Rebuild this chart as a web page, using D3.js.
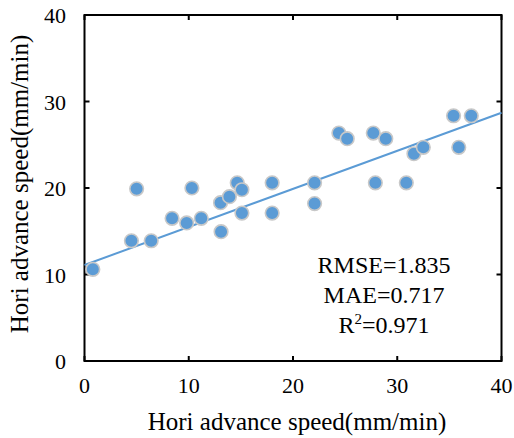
<!DOCTYPE html>
<html><head><meta charset="utf-8">
<script src="https://cdn.jsdelivr.net/npm/d3@7"></script>
<style>body{margin:0;background:#fff}svg{display:block}</style>
</head><body><svg id="c" width="514" height="438"></svg>
<script>
const xVals = [0.8, 4.5, 5.0, 6.4, 8.4, 9.8, 10.3, 11.2, 13.05, 13.1, 13.9, 14.65, 15.1, 15.1, 18.0, 18.0, 22.07, 22.07, 24.4, 25.2, 27.7, 27.9, 28.9, 30.87, 31.6, 32.5, 35.4, 35.9, 37.1];
const yVals = [10.6, 13.9, 19.9, 13.9, 16.5, 15.96, 20.0, 16.5, 18.3, 14.95, 19.0, 20.6, 19.8, 17.1, 20.6, 17.1, 20.6, 18.2, 26.35, 25.7, 26.35, 20.6, 25.7, 20.6, 23.96, 24.7, 28.35, 24.7, 28.35];
const fitX = [0, 40];
const fitY = [11.1, 28.7];
const xTicks = [0, 10, 20, 30, 40];
const yTicks = [0, 10, 20, 30, 40];
const xTitle = "Hori advance speed(mm/min)";
const yTitle = "Hori advance speed(mm/min)";
const stats = ["RMSE=1.835", "MAE=0.717"];

const svg = d3.select("#c");
const L = 84.5, R = 501.5, T = 15, B = 361;
const x = d3.scaleLinear().domain([0, 40]).range([L, R]);
const y = d3.scaleLinear().domain([0, 40]).range([B, T]);
const font = "Liberation Serif";

svg.append("rect").attr("x", L).attr("y", T).attr("width", R - L).attr("height", B - T)
  .attr("fill", "none").attr("stroke", "#000").attr("stroke-width", 2);

const tl = 5;
const g = svg.append("g");
xTicks.forEach(t => {
  g.append("line").attr("x1", x(t)).attr("x2", x(t)).attr("y1", B).attr("y2", B - tl).attr("stroke", "#000").attr("stroke-width", 2);
  g.append("line").attr("x1", x(t)).attr("x2", x(t)).attr("y1", T).attr("y2", T + tl).attr("stroke", "#000").attr("stroke-width", 2);
  g.append("text").attr("x", x(t)).attr("y", 393).attr("text-anchor", "middle")
    .attr("font-family", font).attr("font-size", 22).attr("fill", "#000").text(t);
});
yTicks.forEach(t => {
  g.append("line").attr("x1", L).attr("x2", L + tl).attr("y1", y(t)).attr("y2", y(t)).attr("stroke", "#000").attr("stroke-width", 2);
  g.append("line").attr("x1", R).attr("x2", R - tl).attr("y1", y(t)).attr("y2", y(t)).attr("stroke", "#000").attr("stroke-width", 2);
  g.append("text").attr("x", 66).attr("y", y(t) + 8).attr("text-anchor", "end")
    .attr("font-family", font).attr("font-size", 22).attr("fill", "#000").text(t);
});

svg.append("path").datum(fitX.map((d, i) => [d, fitY[i]]))
  .attr("d", d3.line().x(d => x(d[0])).y(d => y(d[1])))
  .attr("stroke", "#5b9bd5").attr("stroke-width", 2).attr("fill", "none");

svg.append("g").selectAll("circle").data(xVals.map((d, i) => [d, yVals[i]])).join("circle")
  .attr("cx", d => x(d[0])).attr("cy", d => y(d[1])).attr("r", 6.8)
  .attr("fill", "#5b9bd5").attr("stroke", "#c8c8c8").attr("stroke-width", 1.6);

const sx = 384;
stats.forEach((s, i) => {
  svg.append("text").attr("x", sx).attr("y", 273 + i * 30).attr("text-anchor", "middle")
    .attr("font-family", font).attr("font-size", 24).attr("fill", "#000").text(s);
});
const r2 = svg.append("text").attr("x", sx).attr("y", 333).attr("text-anchor", "middle")
  .attr("font-family", font).attr("font-size", 24).attr("fill", "#000");
r2.append("tspan").text("R");
r2.append("tspan").attr("dy", -9).attr("font-size", 15).text("2");
r2.append("tspan").attr("dy", 9).text("=0.971");

svg.append("text").attr("x", 297).attr("y", 430).attr("text-anchor", "middle")
  .attr("font-family", font).attr("font-size", 25).attr("fill", "#000").text(xTitle);
svg.append("text").attr("transform", "translate(28,184) rotate(-90)").attr("text-anchor", "middle")
  .attr("font-family", font).attr("font-size", 25).attr("fill", "#000").text(yTitle);
</script></body></html>
